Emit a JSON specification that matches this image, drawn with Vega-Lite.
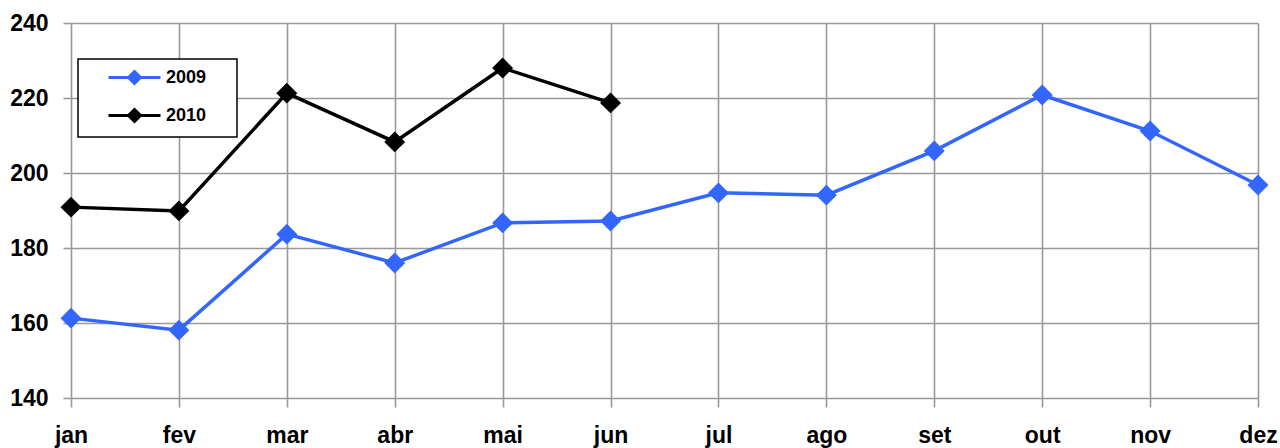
{
  "$schema": "https://vega.github.io/schema/vega-lite/v6.json",
  "width": 1187,
  "height": 375,
  "autosize": {"type": "none"},
  "padding": {"left": 71, "top": 23, "right": 22, "bottom": 50},
  "background": "white",
  "config": {
    "view": {"stroke": null},
    "font": "Liberation Sans",
    "axis": {
      "labelFont": "Liberation Sans",
      "labelFontWeight": "bold",
      "labelFontSize": 23,
      "labelColor": "black",
      "gridColor": "#999999",
      "gridWidth": 1.6,
      "gridOpacity": 1,
      "tickColor": "#999999",
      "tickWidth": 1.6,
      "domain": false,
      "title": null
    }
  },
  "data": {
    "values": [
      {"month": "jan", "year": "2009", "value": 161.3},
      {"month": "fev", "year": "2009", "value": 158.1},
      {"month": "mar", "year": "2009", "value": 183.7},
      {"month": "abr", "year": "2009", "value": 176.0},
      {"month": "mai", "year": "2009", "value": 186.7},
      {"month": "jun", "year": "2009", "value": 187.2},
      {"month": "jul", "year": "2009", "value": 194.7},
      {"month": "ago", "year": "2009", "value": 194.1},
      {"month": "set", "year": "2009", "value": 205.9},
      {"month": "out", "year": "2009", "value": 220.8},
      {"month": "nov", "year": "2009", "value": 211.2},
      {"month": "dez", "year": "2009", "value": 196.8},
      {"month": "jan", "year": "2010", "value": 190.9},
      {"month": "fev", "year": "2010", "value": 189.9},
      {"month": "mar", "year": "2010", "value": 221.3},
      {"month": "abr", "year": "2010", "value": 208.3},
      {"month": "mai", "year": "2010", "value": 228.0},
      {"month": "jun", "year": "2010", "value": 218.7}
    ]
  },
  "encoding": {
    "x": {
      "field": "month",
      "type": "ordinal",
      "sort": ["jan","fev","mar","abr","mai","jun","jul","ago","set","out","nov","dez"],
      "scale": {"type": "point", "padding": 0},
      "axis": {"labelAngle": 0, "tickSize": 9, "labelPadding": 17, "grid": true}
    },
    "y": {
      "field": "value",
      "type": "quantitative",
      "scale": {"domain": [140, 240], "nice": false, "zero": false},
      "axis": {"values": [140,160,180,200,220,240], "tickSize": 8, "labelPadding": 15, "grid": true}
    },
    "color": {
      "field": "year",
      "type": "nominal",
      "scale": {"domain": ["2009","2010"], "range": ["#3366ff","#000000"]},
      "legend": {
        "title": null,
        "orient": "none",
        "legendX": 7,
        "legendY": 36,
        "strokeColor": "black",
        "fillColor": "white",
        "padding": 9,
        "symbolType": "M-3.25,0L3.25,0M0,-0.75L0.75,0L0,0.75L-0.75,0ZM10.9,0",
        "symbolSize": 256,
        "symbolStrokeWidth": 3,
        "symbolOffset": 38,
        "labelOffset": 22,
        "rowPadding": 13,
        "labelFont": "Liberation Sans",
        "labelFontWeight": "bold",
        "labelFontSize": 18,
        "labelColor": "black",
        "encode": {
          "legend": {
            "update": {
              "strokeWidth": {"value": 1.5}
            }
          },
          "symbols": {
            "update": {
              "fill": {"scale": "color", "field": "value"},
              "stroke": {"scale": "color", "field": "value"},
              "opacity": {"value": 1}
            }
          }
        }
      }
    }
  },
  "layer": [
    {
      "mark": {"type": "line", "strokeWidth": 3.5}
    },
    {
      "mark": {"type": "point", "shape": "diamond", "filled": true, "size": 440, "opacity": 1}
    }
  ]
}
